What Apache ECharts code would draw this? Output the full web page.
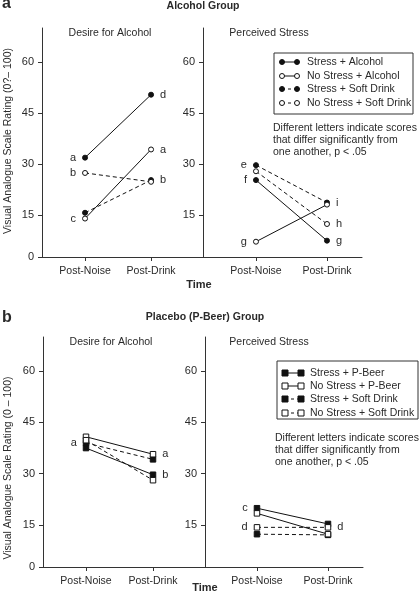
<!DOCTYPE html>
<html><head><meta charset="utf-8">
<script src="https://cdn.jsdelivr.net/npm/echarts@6/dist/echarts.min.js"></script>
<style>html,body{margin:0;padding:0;background:#fff}#c{width:420px;height:604px}</style>
</head><body><div id="c"></div>
<script>
const categories = ['Post-Noise', 'Post-Drink'];
const yTicks = [15, 30, 45, 60];
const namesA = ['Stress + Alcohol', 'No Stress + Alcohol', 'Stress + Soft Drink', 'No Stress + Soft Drink'];
const namesB = ['Stress + P-Beer', 'No Stress + P-Beer', 'Stress + Soft Drink', 'No Stress + Soft Drink'];

// Panel a — Alcohol group
const aDesireStressAlc = [31.9, 50.4];
const aDesireNoStressAlc = [14.0, 34.3];
const aDesireStressSoft = [15.7, 25.3];
const aDesireNoStressSoft = [27.4, 24.8];
const aStressStressAlc = [25.3, 7.5];
const aStressNoStressAlc = [7.2, 18.1];
const aStressStressSoft = [29.7, 18.7];
const aStressNoStressSoft = [27.9, 12.4];
// Panel b — Placebo group
const bDesireStressBeer = [37.5, 29.7];
const bDesireNoStressBeer = [40.8, 35.7];
const bDesireStressSoft = [39.0, 34.2];
const bDesireNoStressSoft = [39.8, 28.1];
const bStressStressBeer = [19.9, 15.3];
const bStressNoStressBeer = [18.4, 12.3];
const bStressStressSoft = [12.3, 12.1];
const bStressNoStressSoft = [14.3, 14.3];

// significance letters [Post-Noise, Post-Drink]
const aDesireLetters = [['a', 'd'], ['c', 'a'], ['', 'b'], ['b', '']];
const aStressLetters = [['f', 'g'], ['g', ''], ['e', 'i'], ['', 'h']];
const bDesireLetters = [['', 'b'], ['', 'a'], ['a', ''], ['', '']];
const bStressLetters = [['c', ''], ['', ''], ['', ''], ['d', 'd']];

const noteText = 'Different letters indicate scores\nthat differ significantly from\none another, p < .05';

const FONT = '"Liberation Sans", Arial, sans-serif';
const TXT = '#2a2a2a';
const YMIN = 2.7, YMAX = 70;

const grids = [
  {left: 42, top: 28, width: 161, height: 229, xmin: 0.348, xmax: 2.787, first: true},
  {left: 203, top: 28, width: 159, height: 229, xmin: 0.254, xmax: 2.493, first: false},
  {left: 43, top: 337, width: 162, height: 230, xmin: 0.358, xmax: 2.776, first: true},
  {left: 205, top: 337, width: 158, height: 230, xmin: 0.268, xmax: 2.493, first: false}
];

const xAxes = grids.map((g, i) => ({
  type: 'value', gridIndex: i, min: g.xmin, max: g.xmax,
  axisLine: {show: true, lineStyle: {color: '#333', width: 1}},
  axisTick: {show: true, length: 4, customValues: [1, 2], lineStyle: {color: '#333'}},
  axisLabel: {customValues: [1, 2], margin: 9, color: TXT, fontFamily: FONT, fontSize: 10.5,
    formatter: v => categories[Math.round(v) - 1] || ''},
  splitLine: {show: false}
}));
const yAxes = grids.map((g, i) => {
  const vals = g.first ? [YMIN].concat(yTicks) : yTicks.slice();
  return {
    type: 'value', gridIndex: i, min: YMIN, max: YMAX,
    axisLine: {show: true, onZero: false, lineStyle: {color: '#333', width: 1}},
    axisTick: {show: true, length: 4, customValues: vals, lineStyle: {color: '#333'}},
    axisLabel: {customValues: vals, margin: 8, color: TXT, fontFamily: FONT, fontSize: 11,
      formatter: v => (v < 5 ? '0' : String(v))},
    splitLine: {show: false}
  };
});

function mk(name, vals, letters, gi, filled, dashed, symbol, size) {
  return {
    type: 'line', name, xAxisIndex: gi, yAxisIndex: gi,
    symbol, symbolSize: size, showAllSymbol: true,
    lineStyle: {color: '#111', width: 1, type: dashed ? [4, 3] : 'solid'},
    itemStyle: {color: filled ? '#111' : '#fff', borderColor: '#111', borderWidth: 1},
    emphasis: {disabled: true},
    z: filled ? 3 : 4,
    data: vals.map((v, k) => ({
      value: [k + 1, v],
      label: {show: !!letters[k], formatter: letters[k], position: k === 0 ? 'left' : 'right',
        distance: 6, color: TXT, fontFamily: FONT, fontSize: 11}
    }))
  };
}
const series = [
  mk(namesA[0], aDesireStressAlc, aDesireLetters[0], 0, true, false, 'circle', 5),
  mk(namesA[1], aDesireNoStressAlc, aDesireLetters[1], 0, false, false, 'circle', 5),
  mk(namesA[2], aDesireStressSoft, aDesireLetters[2], 0, true, true, 'circle', 5),
  mk(namesA[3], aDesireNoStressSoft, aDesireLetters[3], 0, false, true, 'circle', 5),
  mk(namesA[0], aStressStressAlc, aStressLetters[0], 1, true, false, 'circle', 5),
  mk(namesA[1], aStressNoStressAlc, aStressLetters[1], 1, false, false, 'circle', 5),
  mk(namesA[2], aStressStressSoft, aStressLetters[2], 1, true, true, 'circle', 5),
  mk(namesA[3], aStressNoStressSoft, aStressLetters[3], 1, false, true, 'circle', 5),
  mk(namesB[0], bDesireStressBeer, bDesireLetters[0], 2, true, false, 'rect', 5.5),
  mk(namesB[1], bDesireNoStressBeer, bDesireLetters[1], 2, false, false, 'rect', 5.5),
  mk(namesB[2], bDesireStressSoft, bDesireLetters[2], 2, true, true, 'rect', 5.5),
  mk(namesB[3], bDesireNoStressSoft, bDesireLetters[3], 2, false, true, 'rect', 5.5),
  mk(namesB[0], bStressStressBeer, bStressLetters[0], 3, true, false, 'rect', 5.5),
  mk(namesB[1], bStressNoStressBeer, bStressLetters[1], 3, false, false, 'rect', 5.5),
  mk(namesB[2], bStressStressSoft, bStressLetters[2], 3, true, true, 'rect', 5.5),
  mk(namesB[3], bStressNoStressSoft, bStressLetters[3], 3, false, true, 'rect', 5.5)
];

function txt(x, y, text, o) {
  o = o || {};
  return {type: 'text', x, y, rotation: o.rot || 0, z: 10,
    style: {text, fill: TXT, font: (o.bold ? 'bold ' : '') + (o.size || 10.5) + 'px ' + FONT,
      align: o.align || 'center', verticalAlign: o.va || 'middle', lineHeight: o.lh || 12}};
}
function legend(box, rows, x1, x2, tx, names, square) {
  const els = [{type: 'rect', shape: {x: box[0], y: box[1], width: box[2], height: box[3]},
    style: {fill: 'none', stroke: '#333', lineWidth: 1}, z: 10}];
  names.forEach((n, i) => {
    const y = rows[i], filled = i % 2 === 0, dashed = i >= 2;
    els.push({type: 'line', shape: {x1, y1: y, x2, y2: y},
      style: {stroke: '#111', lineWidth: 1, lineDash: dashed ? [3, 3] : null}, z: 10});
    [x1, x2].forEach(cx => {
      if (square) els.push({type: 'rect', shape: {x: cx - 3, y: y - 3, width: 6, height: 6},
        style: {fill: filled ? '#111' : '#fff', stroke: '#111', lineWidth: 1}, z: 11});
      else els.push({type: 'circle', shape: {cx, cy: y, r: 2.5},
        style: {fill: filled ? '#111' : '#fff', stroke: '#111', lineWidth: 1}, z: 11});
    });
    els.push(txt(tx, y, n, {align: 'left', size: 10.5}));
  });
  return els;
}

const graphic = [
  txt(2, 4, 'a', {bold: true, size: 16, align: 'left'}),
  txt(203, 6, 'Alcohol Group', {bold: true, size: 10.5}),
  txt(110, 33, 'Desire for Alcohol'),
  txt(269, 33, 'Perceived Stress'),
  txt(199, 285, 'Time', {bold: true, size: 11}),
  txt(8, 141, 'Visual Analogue Scale Rating (0?\u2013 100)', {rot: Math.PI / 2}),
  txt(273, 140, noteText, {align: 'left'}),
  txt(2, 318, 'b', {bold: true, size: 16, align: 'left'}),
  txt(205, 317, 'Placebo (P-Beer) Group', {bold: true, size: 10.5}),
  txt(111, 342, 'Desire for Alcohol'),
  txt(269, 342, 'Perceived Stress'),
  txt(205, 588, 'Time', {bold: true, size: 11}),
  txt(8, 468, 'Visual Analogue Scale Rating (0 \u2013 100)', {rot: Math.PI / 2}),
  txt(275, 450, noteText, {align: 'left'})
].concat(legend([274, 53, 139, 61], [62, 76, 89, 103], 282, 297, 307, namesA, false))
 .concat(legend([277, 361, 141, 58], [373, 386, 399, 413], 285, 301, 310, namesB, true));

const chart = echarts.init(document.getElementById('c'), null, {renderer: 'canvas'});
chart.setOption({
  animation: false,
  backgroundColor: '#fff',
  grid: grids.map(g => ({left: g.left, top: g.top, width: g.width, height: g.height})),
  xAxis: xAxes, yAxis: yAxes, series, graphic
});
</script></body></html>
